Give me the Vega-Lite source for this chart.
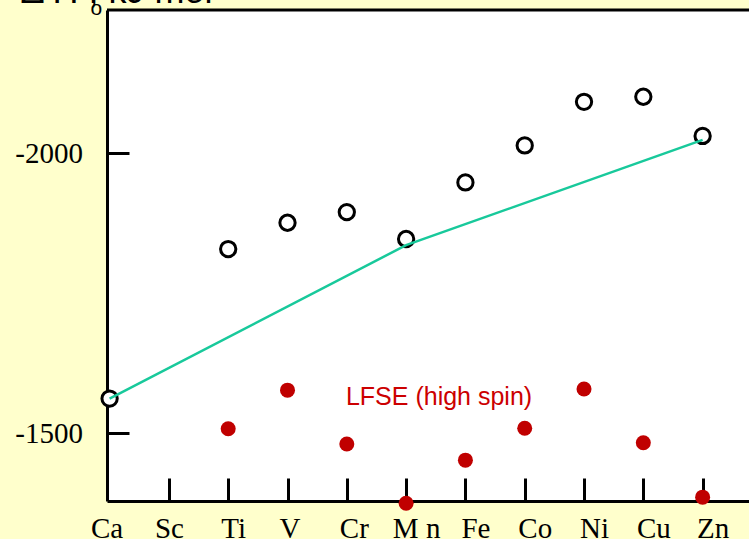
{
  "$schema": "https://vega.github.io/schema/vega-lite/v6.json",
  "width": 642,
  "height": 491,
  "autosize": {"type": "none"},
  "padding": {"left": 107, "top": 10, "right": 0, "bottom": 38},
  "background": "#FFFFCC",
  "view": {"stroke": null, "fill": "white"},
  "config": {"axis": {"grid": false}},
  "datasets": {
    "hyd": [
      {"el": "Ca", "i": 0, "dH": -1562},
      {"el": "Ti", "i": 2, "dH": -1829},
      {"el": "V", "i": 3, "dH": -1876},
      {"el": "Cr", "i": 4, "dH": -1895},
      {"el": "Mn", "i": 5, "dH": -1847},
      {"el": "Fe", "i": 6, "dH": -1948},
      {"el": "Co", "i": 7, "dH": -2014},
      {"el": "Ni", "i": 8, "dH": -2092},
      {"el": "Cu", "i": 9, "dH": -2101},
      {"el": "Zn", "i": 10, "dH": -2031}
    ],
    "trend": [
      {"el": "Ca", "i": 0, "dH": -1562},
      {"el": "Mn", "i": 5, "dH": -1836},
      {"el": "Zn", "i": 10, "dH": -2024}
    ],
    "lfse": [
      {"el": "Ti", "i": 2, "dH": -1508},
      {"el": "V", "i": 3, "dH": -1577},
      {"el": "Cr", "i": 4, "dH": -1481},
      {"el": "Mn", "i": 5, "dH": -1375},
      {"el": "Fe", "i": 6, "dH": -1452},
      {"el": "Co", "i": 7, "dH": -1509},
      {"el": "Ni", "i": 8, "dH": -1579},
      {"el": "Cu", "i": 9, "dH": -1483},
      {"el": "Zn", "i": 10, "dH": -1386}
    ],
    "notes": [
      {"text": "LFSE (high spin)", "i": 5.555, "dH": -1550}
    ]
  },
  "encoding": {
    "x": {
      "field": "i", "type": "quantitative",
      "scale": {"domain": [-0.0438, 10.782], "nice": false, "zero": false},
      "axis": {
        "values": [0, 1, 2, 3, 4, 5, 6, 7, 8, 9, 10],
        "labelExpr": "['Ca','Sc','Ti','V','Cr','M n','Fe','Co','Ni','Cu','Zn'][datum.value]",
        "title": "o",
        "titleX": -17, "titleY": -487,
        "titleAlign": "left", "titleBaseline": "alphabetic",
        "titleFont": "Liberation Sans", "titleFontSize": 21, "titleFontWeight": "normal", "titleColor": "black",
        "domainColor": "black", "domainWidth": 3,
        "tickColor": "black", "tickWidth": 3, "tickSize": -23,
        "tickOpacity": {"condition": {"test": "datum.value < 0.5", "value": 0}, "value": 1},
        "labelFont": "Liberation Serif", "labelFontSize": 29, "labelColor": "black",
        "labelBaseline": "alphabetic", "labelPadding": 59,
        "labelFlush": false, "labelOverlap": false, "labelBound": false,
        "labelOffset": {"condition": [
          {"test": "datum.value < 0.5", "value": -3},
          {"test": "datum.value < 1.5", "value": 0},
          {"test": "datum.value < 2.5", "value": 5},
          {"test": "datum.value < 3.5", "value": 2},
          {"test": "datum.value < 4.5", "value": 7}
        ], "value": 10}
      }
    },
    "y": {
      "field": "dH", "type": "quantitative",
      "scale": {"domain": [-2255.9, -1379.1], "reverse": true, "nice": false, "zero": false},
      "axis": {
        "values": [-2000, -1500],
        "labelExpr": "'' + datum.value",
        "title": "Δ H , kJ mol⁻¹",
        "titleAngle": 0, "titleX": -87, "titleY": -8,
        "titleAlign": "left", "titleBaseline": "alphabetic",
        "titleFont": "Liberation Sans", "titleFontSize": 36, "titleFontWeight": "normal", "titleColor": "black",
        "domainColor": "black", "domainWidth": 3,
        "tickColor": "black", "tickWidth": 3, "tickSize": -22,
        "labelFont": "Liberation Serif", "labelFontSize": 29, "labelColor": "black",
        "labelPadding": 46.5, "labelFlush": false, "labelOverlap": false, "labelBound": false
      }
    }
  },
  "layer": [
    {
      "data": {"name": "hyd"},
      "mark": {"type": "point", "shape": "circle", "filled": true, "fill": "white", "stroke": "black", "strokeWidth": 3, "size": 234, "opacity": 1}
    },
    {
      "data": {"name": "trend"},
      "mark": {"type": "line", "color": "#18C99B", "strokeWidth": 2.5}
    },
    {
      "data": {"name": "lfse"},
      "mark": {"type": "point", "shape": "circle", "filled": true, "color": "#C00000", "size": 225, "opacity": 1}
    },
    {
      "data": {"name": "notes"},
      "mark": {"type": "text", "color": "#CC0000", "font": "Liberation Sans", "fontSize": 25, "align": "center", "baseline": "alphabetic"},
      "encoding": {
        "text": {"field": "text", "type": "nominal"}
      }
    },
    {
      "data": {"name": "notes"},
      "mark": {"type": "rule", "color": "black", "strokeWidth": 3},
      "encoding": {
        "x": {"value": 0},
        "x2": {"value": 642},
        "y": {"datum": -2255.9, "type": "quantitative"}
      }
    }
  ]
}
